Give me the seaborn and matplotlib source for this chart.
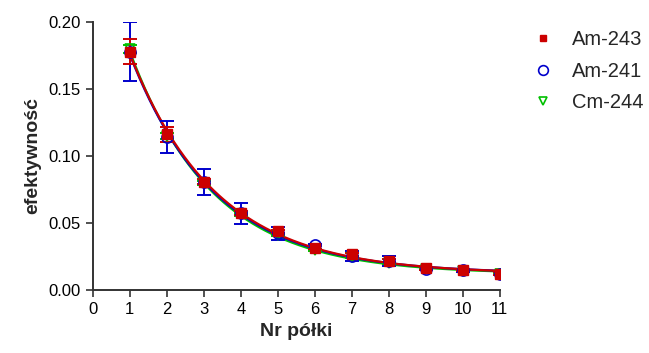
import numpy as np
import pandas as pd
import matplotlib
matplotlib.use("Agg")
import matplotlib.pyplot as plt
import seaborn as sns
from matplotlib.lines import Line2D

shelf = [1, 2, 3, 4, 5, 6, 7, 8, 9, 10, 11]

am243 = [0.1778, 0.1164, 0.0808, 0.0577, 0.0440, 0.0318, 0.0266, 0.0219, 0.0162, 0.0149, 0.0124]
am243_err = [0.0095, 0.0056, 0.0020, 0.0015, 0.0012, 0.0008, 0.0012, 0.0010, 0.0008, 0.0008, 0.0008]

am241 = [0.1778, 0.1140, 0.0804, 0.0572, 0.0423, 0.0336, 0.0255, 0.0218, 0.0160, 0.0147, 0.0122]
am241_err = [0.0220, 0.0120, 0.0098, 0.0078, 0.0050, 0.0010, 0.0035, 0.0035, 0.0012, 0.0010, 0.0010]

cm244 = [0.1795, 0.1150, 0.0800, 0.0565, 0.0410, 0.0300, 0.0250, 0.0205, 0.0158, 0.0145, 0.0120]
cm244_err = [0.0030, 0.0020, 0.0015, 0.0010, 0.0008, 0.0008, 0.0008, 0.0008, 0.0006, 0.0006, 0.0006]

labels = ["Am-243", "Am-241", "Cm-244"]
colors = {"Am-243": "#CC0000", "Am-241": "#0000CC", "Cm-244": "#00C000"}

sns.set_theme(style="ticks")
plt.rcParams["font.family"] = ["Liberation Sans", "DejaVu Sans"]

fig = plt.figure(figsize=(6.49, 3.53), dpi=100)
ax = fig.add_axes([0.143, 0.178, 0.627, 0.760])


def fit_exp(x, y):
    x = np.asarray(x, float)
    y = np.asarray(y, float)
    best = None
    for k in np.linspace(0.05, 1.5, 600):
        M = np.column_stack([np.exp(-k * x), np.ones_like(x)])
        coef, res, *_ = np.linalg.lstsq(M, y, rcond=None)
        r = np.sum((M @ coef - y) ** 2)
        if best is None or r < best[0]:
            best = (r, k, coef)
    _, k, coef = best
    return lambda t: coef[0] * np.exp(-k * t) + coef[1]


xs = np.linspace(1, 11, 300)
series = [("Cm-244", cm244, cm244_err), ("Am-241", am241, am241_err), ("Am-243", am243, am243_err)]
for name, vals, errs in series:
    f = fit_exp(shelf, vals)
    df = pd.DataFrame({"x": xs, "y": f(xs)})
    sns.lineplot(data=df, x="x", y="y", ax=ax, color=colors[name], lw=1.6, legend=False, zorder=2)

styles = {
    "Cm-244": dict(marker="v", mfc="none", mec=colors["Cm-244"], ms=7, mew=1.2),
    "Am-241": dict(marker="o", mfc="none", mec=colors["Am-241"], ms=8, mew=1.2),
    "Am-243": dict(marker="s", mfc=colors["Am-243"], mec=colors["Am-243"], ms=7, mew=1.0),
}
for name, vals, errs in series:
    ax.errorbar(shelf, vals, yerr=errs, fmt="none", ecolor=colors[name],
                elinewidth=1.4, capsize=5, capthick=1.4, zorder=3)
    ax.plot(shelf, vals, ls="none", zorder=4, **styles[name])

ax.set_xlim(0, 11)
ax.set_ylim(0, 0.2)
ax.set_xticks(range(0, 12))
ax.set_yticks([0.0, 0.05, 0.10, 0.15, 0.20])
ax.set_yticklabels(["0.00", "0.05", "0.10", "0.15", "0.20"])
ax.tick_params(labelsize=12, length=5, width=1.2, colors="#333333", labelcolor="black")
for s in ["left", "bottom"]:
    ax.spines[s].set_linewidth(1.4)
    ax.spines[s].set_color("#333333")
sns.despine(ax=ax)
ax.set_xlabel("Nr półki", fontsize=14, fontweight="bold", labelpad=4)
ax.set_ylabel("efektywność", fontsize=14, fontweight="bold", labelpad=5)

handles = [
    Line2D([], [], ls="none", marker="s", mfc=colors["Am-243"], mec=colors["Am-243"], ms=5),
    Line2D([], [], ls="none", marker="o", mfc="none", mec=colors["Am-241"], ms=7, mew=1.2),
    Line2D([], [], ls="none", marker="v", mfc="none", mec=colors["Cm-244"], ms=6, mew=1.2),
]
fig.legend(handles, labels, loc="upper left", bbox_to_anchor=(0.785, 0.965), frameon=False,
           fontsize=14.5, handletextpad=0.7, labelspacing=0.6, handlelength=1.5)

fig.savefig("out.png", dpi=100)
